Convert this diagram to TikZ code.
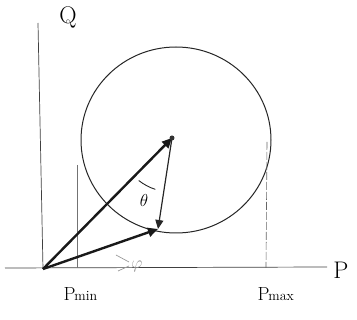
\documentclass[tikz,border=0pt]{standalone}
\usetikzlibrary{arrows.meta}
\begin{document}
\begin{tikzpicture}[x=1pt,y=-1pt,
  axisline/.style={line width=0.7pt, black!75},
  guideline/.style={line width=0.6pt, black!60, dash pattern=on 8pt off 2pt},
  thickvec/.style={line width=2.4pt, black!90, -{Triangle[length=10pt,width=9pt]}},
  thinvec/.style={line width=1.2pt, black!85, -{Triangle[length=9pt,width=8pt]}},
  hand/.style={font=\fontsize{24}{24}\selectfont},
  sublab/.style={font=\fontsize{19}{19}\selectfont}]
\useasboundingbox (0,0) rectangle (357,320);
\coordinate (O) at (43,269);
\coordinate (C) at (172,138);
\coordinate (S) at (158,229);
\coordinate (Qtop) at (38,23);
\coordinate (Xl) at (5,268);
\coordinate (Xr) at (327,267);
% axes
\draw[axisline] (O) -- (Qtop);
\draw[axisline] (Xl) -- (Xr);
% circle
\draw[line width=1pt, black!85] (176,140) ellipse (95 and 93);
% guides
\coordinate (PminTop) at (77,165);
\coordinate (PminBot) at (77,268);
\coordinate (PmaxTop) at (267,142);
\coordinate (PmaxBot) at (266,268);
\draw[line width=0.6pt, black!55] (PminTop) -- (PminBot);
\draw[guideline] (PmaxTop) -- (PmaxBot);
% vectors
\draw[thickvec] (O) -- (C);
\draw[thickvec] (O) -- (S);
\draw[thinvec] (C) -- (S);
\fill[black!80] (C) circle (2.5);
% angle theta
\draw[line width=0.9pt, black!85] ([shift={(128:54)}]C) arc[start angle=128, end angle=108, radius=54];
\node[font=\fontsize{17}{17}\selectfont] (theta) at (144,201) {$\theta$};
% gray phi
\draw[line width=0.7pt, black!40] (116,255) -- (129,262);
\draw[line width=0.7pt, black!40] (118,271) -- (129,266);
\node[black!45, font=\fontsize{17}{17}\selectfont] (phi) at (137,266) {$\varphi$};
% labels
\node[hand] (Q) at (68,17) {Q};
\node[hand] (P) at (341,270) {P};
\node[sublab, anchor=west] (Pmin) at (60,294) {P\kern-1pt{\fontsize{14}{14}\selectfont min}};
\node[sublab, anchor=west] (Pmax) at (254,294) {P\kern-1pt{\fontsize{14}{14}\selectfont max}};
\end{tikzpicture}
\end{document}
